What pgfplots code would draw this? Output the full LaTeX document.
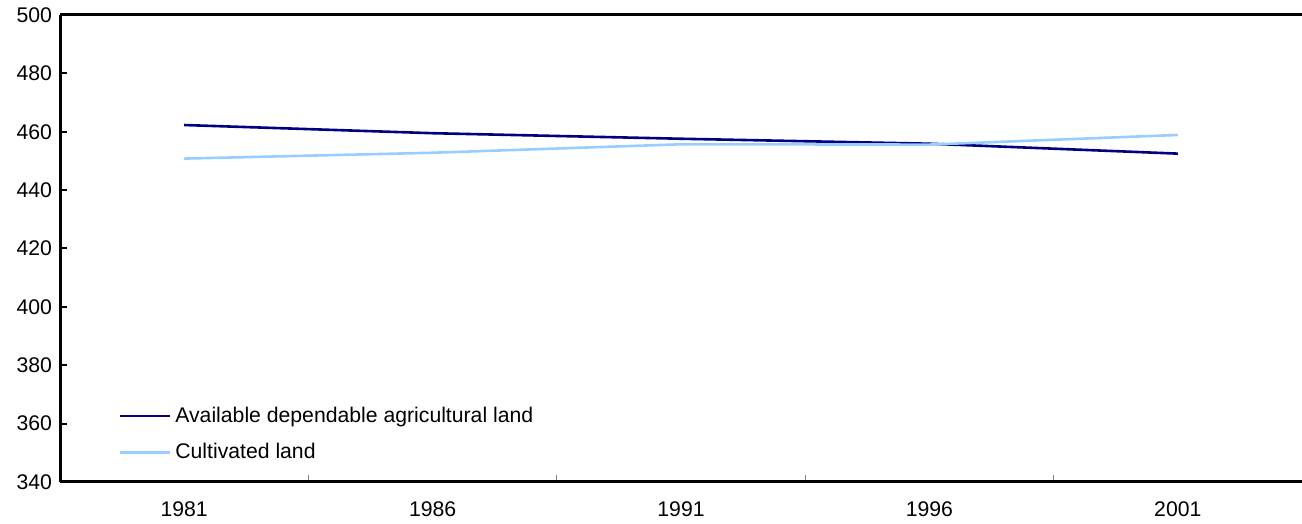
\documentclass[border=0pt]{standalone}
\usepackage{pgfplots}
\pgfplotsset{compat=1.18}
\usepackage{fontspec}
\setmainfont{Liberation Sans}
\definecolor{darkline}{HTML}{000080}
\definecolor{lightline}{HTML}{99CCFF}
\begin{document}
\begin{tikzpicture}
\begin{axis}[
  scale only axis,
  width=621pt, height=233.5pt,
  xmin=-0.5, xmax=4.5,
  ymin=340, ymax=500,
  ytick={340,360,...,500},
  xtick={0,1,2,3,4},
  xticklabels={1981,1986,1991,1996,2001},
  minor xtick={0.5,1.5,2.5,3.5},
  axis x line*=box,
  axis y line*=left,
  xtick pos=bottom,
  tick align=inside,
  major x tick style={draw=none},
  minor x tick style={gray, line width=0.5pt},
  minor tick length=3.5pt,
  major tick length=3.5pt,
  y tick style={black, line width=1pt},
  axis line style={line width=1.5pt},
  tick label style={font=\fontsize{10.6}{12.5}\selectfont},
  /pgf/number format/assume math mode=true,
  yticklabel style={xshift=-0.5pt},
  xticklabel style={yshift=-6.5pt},
  legend style={draw=none, fill=none, at={(0.047,0.17)}, anchor=north west,
    font=\fontsize{10.6}{12.5}\selectfont, row sep=5pt, inner sep=0pt},
  legend cell align=left,
  legend image code/.code={\draw[#1] (0pt,0pt) -- (25pt,0pt);},
  clip=false,
]
\addplot[darkline, line width=1.3pt] coordinates {(0,462.3) (1,459.5) (2,457.6) (3,455.9) (4,452.5)};
\addlegendentry{Available dependable agricultural land}
\addplot[lightline, line width=1.3pt] coordinates {(0,450.8) (1,452.8) (2,455.7) (3,455.6) (4,458.9)};
\addlegendentry{Cultivated land}
\end{axis}
\pgfresetboundingbox
\path ([xshift=-30pt,yshift=-20.5pt]current axis.south west) rectangle ([yshift=7.5pt]current axis.north east);
\end{tikzpicture}
\end{document}
